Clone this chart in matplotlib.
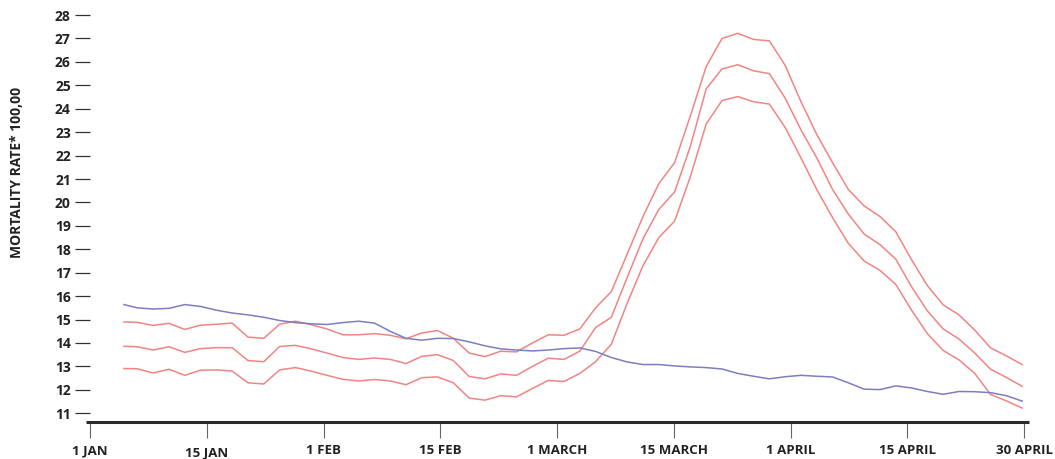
import matplotlib
matplotlib.use('Agg')
import matplotlib.pyplot as plt
import matplotlib.transforms as mtransforms
from matplotlib.lines import Line2D

plt.rcParams['font.family'] = ['Open Sans', 'DejaVu Sans']

# day index since 1 Jan (one sample every two days)
days = [4.3] + list(range(6, 119, 2))

blue = [15.64, 15.50, 15.45, 15.48, 15.64, 15.56, 15.40, 15.28, 15.20, 15.10,
        14.96, 14.87, 14.82, 14.79, 14.87, 14.93, 14.85, 14.50, 14.20, 14.12,
        14.20, 14.19, 14.05, 13.88, 13.75, 13.70, 13.66, 13.70, 13.76, 13.79,
        13.64, 13.38, 13.19, 13.08, 13.08, 13.02, 12.98, 12.95, 12.89, 12.70,
        12.58, 12.47, 12.56, 12.62, 12.58, 12.55, 12.30, 12.03, 12.01, 12.17,
        12.08, 11.93, 11.81, 11.93, 11.92, 11.88, 11.75, 11.52]

upper = [14.90, 14.88, 14.75, 14.84, 14.58, 14.76, 14.80, 14.85, 14.25, 14.20,
         14.80, 14.93, 14.78, 14.60, 14.35, 14.35, 14.40, 14.33, 14.18, 14.43,
         14.53, 14.20, 13.57, 13.42, 13.65, 13.62, 14.00, 14.35, 14.33, 14.60,
         15.50, 16.20, 17.80, 19.40, 20.80, 21.70, 23.70, 25.80, 27.00, 27.22,
         26.96, 26.90, 25.85, 24.30, 22.90, 21.70, 20.55, 19.85, 19.40, 18.75,
         17.55, 16.45, 15.63, 15.20, 14.55, 13.79, 13.45, 13.08]

middle = [13.86, 13.84, 13.70, 13.84, 13.60, 13.76, 13.80, 13.80, 13.25, 13.20,
          13.85, 13.90, 13.75, 13.57, 13.38, 13.30, 13.36, 13.30, 13.12, 13.43,
          13.50, 13.25, 12.57, 12.47, 12.68, 12.62, 13.00, 13.35, 13.30, 13.65,
          14.66, 15.10, 16.80, 18.45, 19.70, 20.45, 22.40, 24.85, 25.70, 25.88,
          25.62, 25.50, 24.45, 23.10, 21.90, 20.55, 19.50, 18.65, 18.20, 17.58,
          16.40, 15.37, 14.60, 14.17, 13.57, 12.88, 12.53, 12.15]

lower = [12.91, 12.90, 12.72, 12.88, 12.62, 12.84, 12.85, 12.80, 12.30, 12.25,
         12.85, 12.95, 12.80, 12.62, 12.45, 12.38, 12.44, 12.38, 12.22, 12.52,
         12.55, 12.30, 11.65, 11.56, 11.75, 11.70, 12.06, 12.40, 12.36, 12.70,
         13.20, 13.95, 15.70, 17.30, 18.50, 19.20, 21.10, 23.35, 24.35, 24.52,
         24.30, 24.20, 23.20, 21.90, 20.55, 19.35, 18.25, 17.50, 17.10, 16.50,
         15.40, 14.40, 13.68, 13.28, 12.70, 11.80, 11.53, 11.22]

tick_labels = ['1 JAN', '15 JAN', '1 FEB', '15 FEB', '1 MARCH',
               '15 MARCH', '1 APRIL', '15 APRIL', '30 APRIL']
tick_pos = [118.24 * i / 8 for i in range(9)]
y_ticks = list(range(11, 29))

fig = plt.figure(figsize=(10.55, 4.59), dpi=100)
ax = fig.add_axes([90 / 1055, 1 - 421.7 / 459, (1029.3 - 90) / 1055, (421.7 - 5) / 459])

red = '#F28484'
ax.plot(days, upper, color=red, lw=1.1)
ax.plot(days, middle, color=red, lw=1.1)
ax.plot(days, lower, color=red, lw=1.1)
ax.plot(days, blue, color='#7D7DC2', lw=1.1)

ax.set_xlim(0, 118.9)
ax.set_ylim(10.64, 28.43)

for s in ['left', 'right', 'top', 'bottom']:
    ax.spines[s].set_visible(False)

# thick base line, starts a bit left of the first tick
fig.add_artist(Line2D([85.7 / 1055, 1029.3 / 1055], [1 - 421.7 / 459] * 2,
                      color='#2b2b2b', lw=2.2, solid_capstyle='butt'))

ax.set_yticks(y_ticks)
ax.set_yticklabels([str(v) for v in y_ticks])
ax.tick_params(axis='y', direction='out', length=10.8, width=0.9,
               color='#333333', pad=3, labelsize=10, labelcolor='#222222')
for lab in ax.get_yticklabels():
    lab.set_fontweight('bold')

ax.set_xticks(tick_pos)
ax.set_xticklabels(tick_labels)
ax.tick_params(axis='x', direction='out', length=11.5, width=0.8,
               color='#666666', pad=4.5, labelsize=9.5, labelcolor='#222222')
for lab in ax.get_xticklabels():
    lab.set_fontweight('bold')
    if lab.get_text() == '15 JAN':
        lab.set_transform(lab.get_transform() +
                          mtransforms.ScaledTranslation(0, -2 / 100, fig.dpi_scale_trans))

fig.text(17 / 1055, 1 - 172 / 459, 'MORTALITY RATE* 100,00', rotation=90,
         ha='center', va='center', fontsize=10, fontweight='bold', color='#222222')

fig.savefig('out.png', dpi=100)
